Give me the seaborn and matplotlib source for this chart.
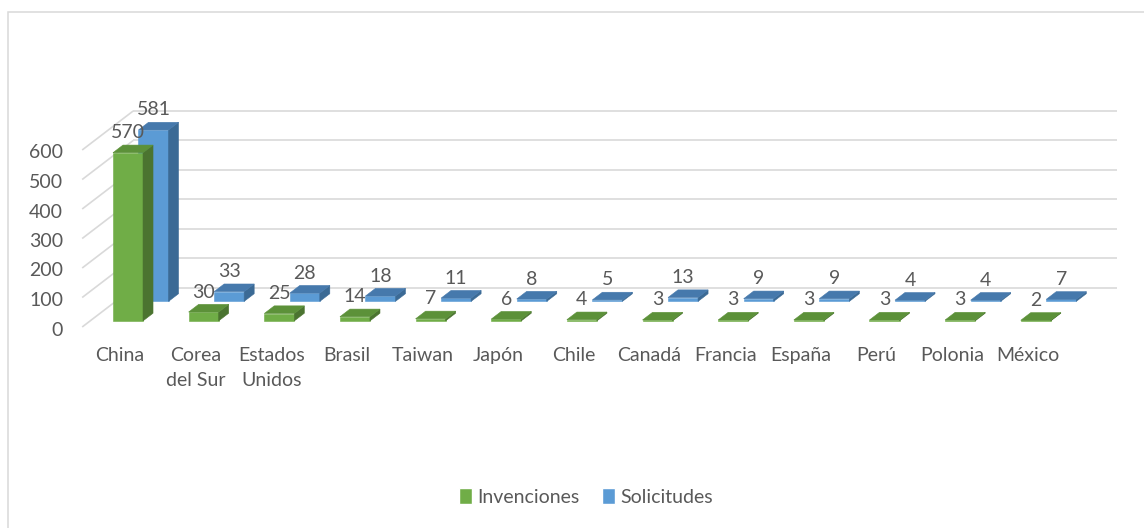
import matplotlib
matplotlib.use("Agg")
import matplotlib.pyplot as plt
import matplotlib.transforms as mtransforms
from matplotlib.patches import Polygon, Patch, Rectangle
import seaborn as sns
import pandas as pd

# ---- data -------------------------------------------------------------
paises = ["China", "Corea\ndel Sur", "Estados\nUnidos", "Brasil", "Taiwan", "Japón",
          "Chile", "Canadá", "Francia", "España", "Perú", "Polonia", "México"]
invenciones = [570, 30, 25, 14, 7, 6, 4, 3, 3, 3, 3, 3, 2]
solicitudes = [581, 33, 28, 18, 11, 8, 5, 13, 9, 9, 4, 4, 7]
y_ticks = [0, 100, 200, 300, 400, 500, 600]
series_names = ["Invenciones", "Solicitudes"]

# ---- style ------------------------------------------------------------
sns.set_theme(style="white")
plt.rcParams["font.family"] = ["Lato", "DejaVu Sans"]
TXT = "#595959"
GRID = "#D9D9D9"
GREEN = dict(front="#70AD47", side="#4B7430", top="#5C9139")
BLUE = dict(front="#5B9BD5", side="#3B6A95", top="#4679AC")
FS = 14

W, H, DPI = 1144, 528, 100
fig = plt.figure(figsize=(W / DPI, H / DPI), dpi=DPI)
ax = fig.add_axes([0, 0, 1, 1])

# pixel geometry of the front plane of the oblique projection
X0, PX_CAT = 120.0, 75.65      # px of category 0, px per category
Y0, PX_UNIT = 327.0, 0.295     # px of value 0, px per value unit
SLOPE = 0.765                  # rise per px of depth
WALL = 51.0                    # depth of back wall (px)
ROWS = {"Invenciones": (8.0, 18.0), "Solicitudes": (33.5, 43.5)}  # front/back depth


def depth(x, y, d):
    """Shift a data point (x, y) back by d pixels of depth."""
    return x + d / PX_CAT, y + SLOPE * d / PX_UNIT


# ---- back wall and side wall gridlines --------------------------------
x_left, x_right = -0.5, len(paises) - 0.5
for v in y_ticks:
    bx0, by0 = depth(x_left, v, WALL)
    bx1, by1 = depth(x_right, v, WALL)
    ax.plot([bx0, bx1], [by0, by1], color=GRID, lw=1.2, zorder=1,
            solid_capstyle="butt")
    ax.plot([x_left, bx0], [v, by0], color=GRID, lw=1.2, zorder=1,
            solid_capstyle="butt")
    ax.text(x_left - 19 / PX_CAT, v - 3 / PX_UNIT, f"{v}", ha="right",
            va="center", color=TXT, fontsize=FS)

# ---- bars (back row first) --------------------------------------------
df = pd.DataFrame({"pais": paises * 2,
                   "valor": invenciones + solicitudes,
                   "serie": [series_names[0]] * len(paises) + [series_names[1]] * len(paises)})

for name, col in ((series_names[1], BLUE), (series_names[0], GREEN)):
    d_front, d_back = ROWS[name]
    n_before = len(ax.patches)
    sub = df[df["serie"] == name]
    sns.barplot(data=sub, x="pais", y="valor", order=paises, color=col["front"],
                saturation=1, width=0.397, ax=ax, errorbar=None, zorder=3)
    shift = mtransforms.ScaledTranslation(d_front / DPI, SLOPE * d_front / DPI,
                                          fig.dpi_scale_trans)
    zbase = 3 if name == series_names[1] else 6
    for p in ax.patches[n_before:]:
        x, w, h = p.get_x(), p.get_width(), p.get_height()
        p.set_transform(ax.transData + shift)
        p.set_edgecolor(col["front"])
        p.set_linewidth(0.4)
        p.set_zorder(zbase)
        side = [depth(x + w, 0, d_front), depth(x + w, 0, d_back),
                depth(x + w, h, d_back), depth(x + w, h, d_front)]
        top = [depth(x, h, d_front), depth(x + w, h, d_front),
               depth(x + w, h, d_back), depth(x, h, d_back)]
        ax.add_patch(Polygon(side, closed=True, facecolor=col["side"],
                             edgecolor=col["side"], lw=0.4, zorder=zbase))
        ax.add_patch(Polygon(top, closed=True, facecolor=col["top"],
                             edgecolor=col["top"], lw=0.4, zorder=zbase + 1))
        ax.annotate(f"{h:.0f}", xy=(x + w / 2, h),
                    xytext=(d_front / 1.389, (SLOPE * d_front + 20) / 1.389),
                    textcoords="offset points", ha="center", va="center",
                    color=TXT, fontsize=FS, zorder=10)

# ---- category labels ---------------------------------------------------
for i, lab in enumerate(paises):
    ax.text(i, (Y0 - 347) / PX_UNIT, lab, ha="center", va="top", color=TXT,
            fontsize=FS, linespacing=1.55)

ax.set_xlim(-X0 / PX_CAT, (W - X0) / PX_CAT)
ax.set_ylim((Y0 - H) / PX_UNIT, Y0 / PX_UNIT)
ax.axis("off")

# ---- legend and chart frame -------------------------------------------
handles = [Patch(facecolor=GREEN["front"], label=series_names[0]),
           Patch(facecolor=BLUE["front"], label=series_names[1])]
fig.legend(handles=handles, loc="center", bbox_to_anchor=(586 / W, 1 - 497 / H),
           ncol=2, frameon=False, fontsize=FS, labelcolor=TXT,
           handlelength=0.65, handleheight=0.9, handletextpad=0.25,
           columnspacing=1.2)
fig.patches.append(Rectangle((7.5 / W, -0.1), 1.2, 1.1 - 12.5 / H,
                             transform=fig.transFigure, fill=False,
                             edgecolor=GRID, lw=1.1))

fig.savefig("out.png", dpi=DPI)
